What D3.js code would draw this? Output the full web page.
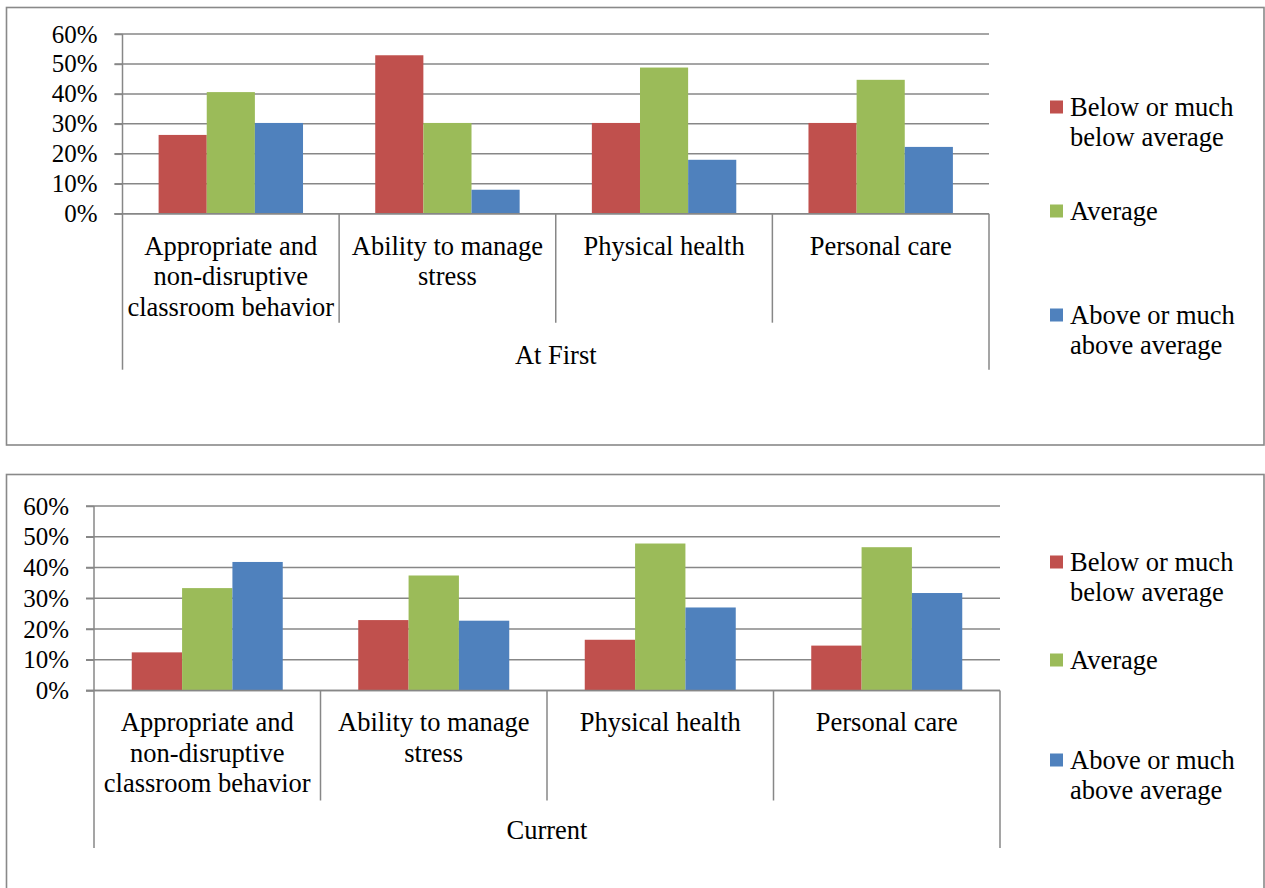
<!DOCTYPE html>
<html>
<head>
<meta charset="utf-8">
<script src="https://cdn.jsdelivr.net/npm/d3@7/dist/d3.min.js"></script>
<style>
  html, body { margin: 0; padding: 0; background: #fff; }
  svg { display: block; }
  text { font-family: "Liberation Serif", "Times New Roman", serif; fill: #000; }
</style>
</head>
<body>
<svg id="chart" width="1265" height="888"></svg>
<script>
// Skill categories shown along the x axis
const categories = [
  ["Appropriate and", "non-disruptive", "classroom behavior"],
  ["Ability to manage", "stress"],
  ["Physical health"],
  ["Personal care"]
];
const seriesNames = ["Below or much below average", "Average", "Above or much above average"];
const legendLines = [["Below or much", "below average"], ["Average"], ["Above or much", "above average"]];
const seriesColors = ["#C0504D", "#9BBB59", "#4F81BD"];
const yTicks = [0, 0.1, 0.2, 0.3, 0.4, 0.5, 0.6];

// Ratings when students started
const firstBelow   = [0.263, 0.529, 0.303, 0.303];
const firstAverage = [0.406, 0.303, 0.488, 0.447];
const firstAbove   = [0.303, 0.080, 0.180, 0.223];

// Ratings now
const currentBelow   = [0.124, 0.229, 0.165, 0.146];
const currentAverage = [0.333, 0.374, 0.478, 0.466];
const currentAbove   = [0.418, 0.227, 0.270, 0.317];

const svg = d3.select("#chart");
const TICK_FONT = 25;
const FONT = 26.5;
const LINE = 30.5;

function drawPanel(o) {
  const g = svg.append("g");
  // outer chart frame
  g.append("rect")
    .attr("x", o.frame[0]).attr("y", o.frame[1])
    .attr("width", o.frame[2] - o.frame[0]).attr("height", o.frame[3] - o.frame[1])
    .attr("fill", "#fff").attr("stroke", "#898989").attr("stroke-width", 1.6);

  const x0 = d3.scaleBand().domain(d3.range(categories.length)).range([o.left, o.right]);
  const x1 = d3.scaleBand().domain(d3.range(seriesNames.length))
    .range([0, x0.bandwidth()]).paddingInner(0).paddingOuter(0.75);
  const y = d3.scaleLinear().domain([0, 0.6]).range([o.bottom, o.top]);

  // horizontal gridlines
  g.append("g").selectAll("line").data(yTicks).join("line")
    .attr("x1", o.left - 8).attr("x2", o.right)
    .attr("y1", d => y(d)).attr("y2", d => y(d))
    .attr("stroke", "#878787").attr("stroke-width", 1.5);

  // y axis
  const yAxis = g.append("g").attr("transform", `translate(${o.left},0)`)
    .call(d3.axisLeft(y).tickValues(yTicks).tickFormat(d3.format(".0%")).tickSize(8).tickPadding(17));
  yAxis.selectAll(".tick line").attr("stroke", "#878787").attr("stroke-width", 1.5);
  yAxis.selectAll(".tick text").attr("font-size", TICK_FONT).attr("font-family", "Liberation Serif").attr("fill", "#000");
  yAxis.select(".domain").attr("stroke", "#878787").attr("stroke-width", 1.5)
    .attr("d", `M0,${o.top}V${o.bottom}`);

  // bars, one group per series
  o.series.forEach((vals, s) => {
    g.append("g").selectAll("rect").data(vals).join("rect")
      .attr("x", (d, i) => x0(i) + x1(s))
      .attr("y", d => y(d))
      .attr("width", x1.bandwidth())
      .attr("height", d => y(0) - y(d))
      .attr("fill", seriesColors[s]);
  });

  // baseline
  g.append("line").attr("x1", o.left - 8).attr("x2", o.right)
    .attr("y1", y(0)).attr("y2", y(0)).attr("stroke", "#878787").attr("stroke-width", 1.5);

  // category dividers below the axis
  const edges = d3.range(categories.length + 1).map(i => i < categories.length ? x0(i) : o.right);
  g.append("g").selectAll("line").data(edges).join("line")
    .attr("x1", d => d).attr("x2", d => d)
    .attr("y1", y(0))
    .attr("y2", (d, i) => (i === 0 || i === categories.length) ? y(0) + o.outerDrop : y(0) + o.innerDrop)
    .attr("stroke", "#878787").attr("stroke-width", 1.5);

  // category labels
  const cl = g.append("g").selectAll("text").data(categories).join("text")
    .attr("text-anchor", "middle").attr("font-size", FONT)
    .attr("x", (d, i) => x0(i) + x0.bandwidth() / 2)
    .attr("y", y(0) + o.labelOffset);
  cl.selectAll("tspan").data(d => d).join("tspan")
    .attr("x", function () { return d3.select(this.parentNode).attr("x"); })
    .attr("dy", (d, i) => i === 0 ? 0 : LINE)
    .text(d => d);

  // group title under categories
  g.append("text").attr("text-anchor", "middle").attr("font-size", FONT)
    .attr("x", (o.left + o.right) / 2).attr("y", y(0) + o.groupOffset)
    .text(o.group);

  // legend
  const lg = g.append("g").selectAll("g").data(legendLines).join("g")
    .attr("transform", (d, i) => `translate(1050,${o.legendY[i]})`);
  lg.append("rect").attr("x", 0).attr("y", -6.5).attr("width", 13).attr("height", 13)
    .attr("fill", (d, i) => seriesColors[i]);
  lg.append("text").attr("font-size", FONT).attr("x", 20).attr("y", 8.5)
    .selectAll("tspan").data(d => d).join("tspan")
    .attr("x", 20).attr("dy", (d, i) => i === 0 ? 0 : LINE).text(d => d);
}

drawPanel({
  frame: [6.5, 7.5, 1264, 445],
  left: 122.5, right: 989, top: 34, bottom: 213.7,
  series: [firstBelow, firstAverage, firstAbove],
  group: "At First",
  labelOffset: 41, groupOffset: 150,
  innerDrop: 109, outerDrop: 156,
  legendY: [107, 211, 315]
});

drawPanel({
  frame: [6.5, 474.5, 1264, 920],
  left: 94, right: 1000, top: 506, bottom: 690.5,
  series: [currentBelow, currentAverage, currentAbove],
  group: "Current",
  labelOffset: 40.5, groupOffset: 148.5,
  innerDrop: 110, outerDrop: 157.5,
  legendY: [562, 660, 760]
});
</script>
</body>
</html>
